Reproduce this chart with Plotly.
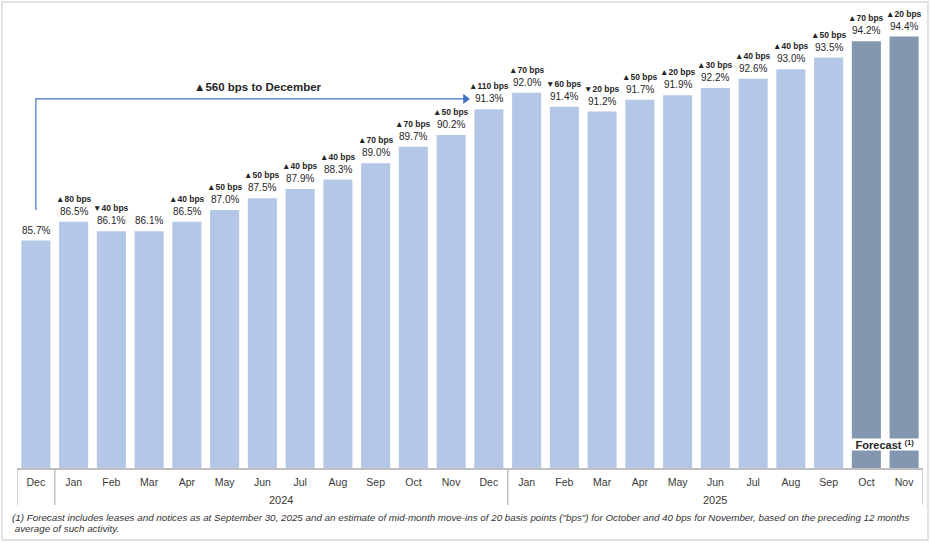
import plotly.graph_objects as go

# ---- data ----
months = ["Dec", "Jan", "Feb", "Mar", "Apr", "May", "Jun", "Jul", "Aug", "Sep", "Oct", "Nov",
          "Dec", "Jan", "Feb", "Mar", "Apr", "May", "Jun", "Jul", "Aug", "Sep", "Oct", "Nov"]
occupancy = [85.7, 86.5, 86.1, 86.1, 86.5, 87.0, 87.5, 87.9, 88.3, 89.0, 89.7, 90.2,
             91.3, 92.0, 91.4, 91.2, 91.7, 91.9, 92.2, 92.6, 93.0, 93.5, 94.2, 94.4]
changes = ["", "▲80 bps", "▼40 bps", "", "▲40 bps", "▲50 bps", "▲50 bps", "▲40 bps",
           "▲40 bps", "▲70 bps", "▲70 bps", "▲50 bps", "▲110 bps", "▲70 bps", "▼60 bps",
           "▼20 bps", "▲50 bps", "▲20 bps", "▲30 bps", "▲40 bps", "▲40 bps", "▲50 bps",
           "▲70 bps", "▲20 bps"]
is_forecast = [False] * 22 + [True, True]
years = ["2024", "2025"]
headline = "▲560 bps to December"
footnote1 = ("(1) Forecast includes leases and notices as at September 30, 2025 and an estimate of "
             "mid-month move-ins of 20 basis points (\"bps\") for October and 40 bps for November, "
             "based on the preceding 12 months")
footnote2 = " average of such activity."

LIGHT = "#B4C7E7"
DARK = "#8497B0"
ARROW = "#4472C4"
FONT = "Liberation Sans, Arial, sans-serif"
TXT = "#262626"

x = list(range(len(months)))
colors = [DARK if f else LIGHT for f in is_forecast]

fig = go.Figure()
fig.add_trace(go.Bar(x=x, y=occupancy, marker=dict(color=colors, line=dict(width=0)),
                     hoverinfo="skip"))

# bracket from December 2023 to December 2024
arrow_y = 91.74
arrow_start, arrow_end = 0, 11.55
fig.add_trace(go.Scatter(x=[arrow_start, arrow_start, arrow_end - 0.2], y=[87.0, arrow_y, arrow_y],
                         mode="lines", line=dict(color=ARROW, width=1.2), hoverinfo="skip"))
fig.add_trace(go.Scatter(x=[arrow_end - 0.17], y=[arrow_y], mode="markers",
                         marker=dict(symbol="triangle-right", size=9, color=ARROW),
                         hoverinfo="skip"))

annotations = []
for i, (v, c) in enumerate(zip(occupancy, changes)):
    annotations.append(dict(x=i, y=v, xref="x", yref="y", text=f"{v:.1f}%", showarrow=False,
                            yanchor="bottom", yshift=3,
                            font=dict(family=FONT, size=10, color=TXT)))
    if c:
        annotations.append(dict(x=i, y=v, xref="x", yref="y", text=f"<b>{c}</b>", showarrow=False,
                                yanchor="bottom", yshift=16,
                                font=dict(family=FONT, size=8.5, color=TXT)))

annotations.append(dict(x=5.88, y=arrow_y, xref="x", yref="y", text=f"<b>{headline}</b>",
                        showarrow=False, yanchor="bottom", yshift=4,
                        font=dict(family=FONT, size=11.5, color=TXT)))

# forecast label
annotations.append(dict(x=22.5, y=0.052, xref="x", yref="paper", yanchor="middle",
                        text="<b>Forecast <sup>(1)</sup></b>", showarrow=False,
                        bgcolor="white", borderpad=0, width=70, height=11,
                        font=dict(family=FONT, size=11, color=TXT)))

# year labels
annotations.append(dict(x=6.5, y=-0.07, xref="x", yref="paper", yanchor="middle", text=years[0],
                        showarrow=False, font=dict(family=FONT, size=11, color="#3a3a3a")))
annotations.append(dict(x=18, y=-0.07, xref="x", yref="paper", yanchor="middle", text=years[1],
                        showarrow=False, font=dict(family=FONT, size=11, color="#3a3a3a")))

# footnote
annotations.append(dict(x=-0.008, y=-0.107, xref="paper", yref="paper", text=f"<i>{footnote1}</i>",
                        showarrow=False, xanchor="left", yanchor="middle",
                        font=dict(family=FONT, size=9.8, color="#333333")))
annotations.append(dict(x=-0.008, y=-0.133, xref="paper", yref="paper", text=f"<i>{footnote2}</i>",
                        showarrow=False, xanchor="left", yanchor="middle",
                        font=dict(family=FONT, size=9.8, color="#333333")))

shapes = []
for sx in [-0.5, 0.5, 12.5, 23.5]:
    shapes.append(dict(type="line", xref="x", yref="paper", x0=sx, x1=sx, y0=0, y1=-0.081,
                       line=dict(color="#BFBFBF", width=1.5)))
# outer frame
shapes.append(dict(type="rect", xref="paper", yref="paper", x0=-0.0166, x1=1.0055,
                   y0=-0.1572, y1=1.0175, line=dict(color="#D9D9D9", width=1.5)))

fig.update_layout(
    width=931, height=544,
    margin=dict(l=17, r=8, t=10, b=76),
    paper_bgcolor="white", plot_bgcolor="white",
    bargap=0.23, showlegend=False,
    annotations=annotations, shapes=shapes,
    font=dict(family=FONT),
)
fig.update_xaxes(range=[-0.5, 23.5], tickmode="array", tickvals=x, ticktext=months,
                 tickfont=dict(family=FONT, size=10.5, color="#3a3a3a"), ticklabelstandoff=4,
                 showline=True, linecolor="#BFBFBF", linewidth=1.5, ticks="",
                 showgrid=False, zeroline=False, fixedrange=True)
fig.update_yaxes(range=[76, 95.53], visible=False, showgrid=False, zeroline=False)

fig.write_html("out.html", config={"displayModeBar": False},
               post_script="document.body.style.margin='0';document.body.style.overflow='hidden';")
